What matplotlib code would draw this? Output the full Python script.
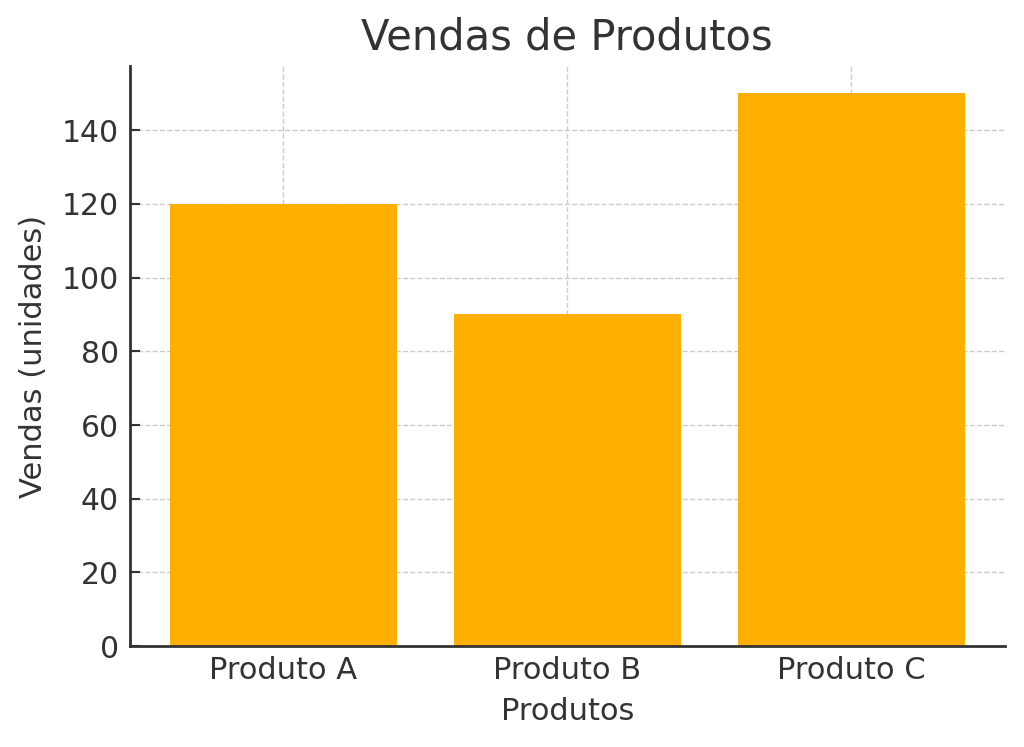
import matplotlib.pyplot as plt

produtos = ['Produto A', 'Produto B', 'Produto C']
vendas = [120, 90, 150]

txt = '#333333'
plt.rcParams['font.family'] = 'DejaVu Sans'

fig = plt.figure(figsize=(10.24, 7.47), dpi=100)
ax = fig.add_axes([0.127, 0.135, 0.854, 0.777])

ax.bar(produtos, vendas, color='#FFAF00', width=0.8, zorder=2)

ax.set_title('Vendas de Produtos', fontsize=30, color=txt, pad=12)
ax.set_xlabel('Produtos', fontsize=22, color=txt, labelpad=9)
ax.set_ylabel('Vendas (unidades)', fontsize=22, color=txt, labelpad=10)

ax.grid(True, linestyle='--', color='#cccccc', linewidth=1, zorder=0)
ax.tick_params(direction='in', labelsize=21.5, colors=txt, length=7, width=1.5, pad=8)
ax.tick_params(axis='x', labelsize=22, pad=7)
ax.spines['top'].set_visible(False)
ax.spines['right'].set_visible(False)
for s in ['left', 'bottom']:
    ax.spines[s].set_color(txt)
    ax.spines[s].set_linewidth(2)

fig.savefig('out.png', dpi=100)
